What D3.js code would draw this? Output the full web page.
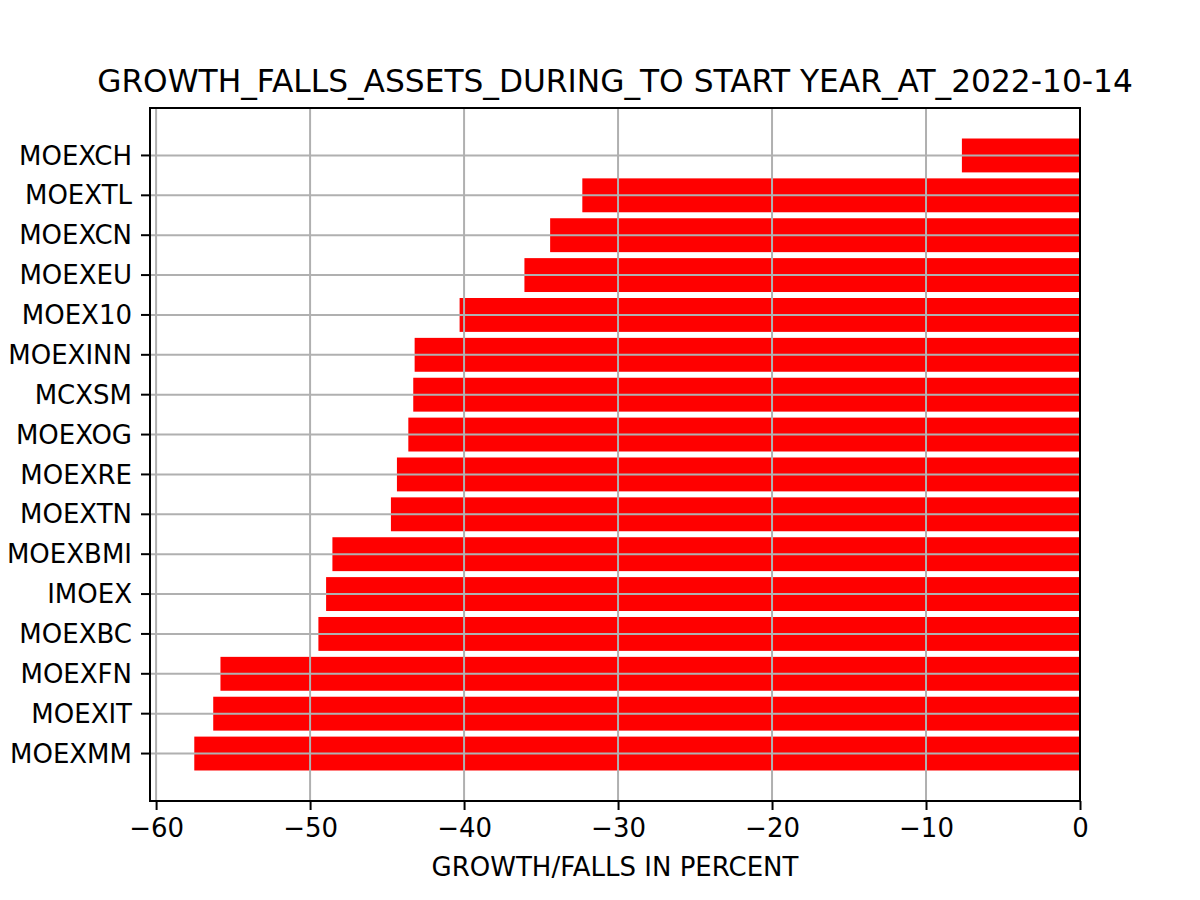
<!DOCTYPE html>
<html><head><meta charset="utf-8">
<script src="https://cdn.jsdelivr.net/npm/d3@7"></script>
<style>body{margin:0;background:#fff}svg{display:block}text{font-family:"DejaVu Sans",sans-serif;fill:#000}</style>
</head><body><svg id="c" width="1200" height="900"></svg>
<script>
const categories = ["MOEXCH","MOEXTL","MOEXCN","MOEXEU","MOEX10","MOEXINN","MCXSM","MOEXOG","MOEXRE","MOEXTN","MOEXBMI","IMOEX","MOEXBC","MOEXFN","MOEXIT","MOEXMM"];
const values = [-7.67,-32.32,-34.41,-36.08,-40.29,-43.21,-43.30,-43.62,-44.36,-44.75,-48.55,-48.96,-49.46,-55.82,-56.29,-57.52];
const xTicks = [-60,-50,-40,-30,-20,-10,0];
const titleText = "GROWTH_FALLS_ASSETS_DURING_TO START YEAR_AT_2022-10-14";
const xLabel = "GROWTH/FALLS IN PERCENT";

const L=150,R=1080,T=108,B=801;
const svg=d3.select("#c");
const n=categories.length;
const minV=d3.min(values);
const x=d3.scaleLinear().domain([minV*1.05,0]).range([L,R]);
const pos=i=>n-1-i;
const half=0.425;
const y=d3.scaleLinear().domain([-0.4-0.79,n-1+0.4+0.79]).range([B,T]);
const bh=y(0)-y(2*half);

svg.append("g").selectAll("rect").data(values).join("rect")
  .attr("x",d=>x(d)).attr("width",d=>x(0)-x(d))
  .attr("y",(d,i)=>y(pos(i)+half)).attr("height",bh)
  .attr("fill","#ff0000");

const g=svg.append("g").attr("stroke","#b0b0b0").attr("stroke-width",2);
g.selectAll(".vx").data(xTicks).join("line").attr("x1",d=>x(d)).attr("x2",d=>x(d)).attr("y1",T).attr("y2",B);
g.selectAll(".hy").data(categories).join("line").attr("x1",L).attr("x2",R).attr("y1",(d,i)=>y(pos(i))).attr("y2",(d,i)=>y(pos(i)));

svg.append("rect").attr("x",L).attr("y",T).attr("width",R-L).attr("height",B-T).attr("fill","none").attr("stroke","#000").attr("stroke-width",2);

const xa=svg.append("g").attr("transform",`translate(0,${B})`)
  .call(d3.axisBottom(x).tickValues(xTicks).tickSize(9).tickPadding(9).tickFormat(d=>d<0?"\u2212"+Math.abs(d):d));
xa.select(".domain").remove();
xa.selectAll("line").attr("stroke-width",2);
xa.selectAll("text").attr("font-size",26).attr("font-family","DejaVu Sans");

const ys=d3.scaleOrdinal().domain(categories).range(categories.map((c,i)=>y(pos(i))));
const ya=svg.append("g").attr("transform",`translate(${L},0)`);
ya.selectAll("line").data(categories).join("line").attr("x1",-9).attr("x2",0)
  .attr("y1",d=>ys(d)).attr("y2",d=>ys(d)).attr("stroke","#000").attr("stroke-width",2);
ya.selectAll("text").data(categories).join("text").attr("x",-18).attr("y",d=>ys(d))
  .attr("dy","0.35em").attr("text-anchor","end").attr("font-size",26).text(d=>d);

svg.append("text").attr("x",(L+R)/2).attr("y",T-15.6).attr("text-anchor","middle").attr("font-size",31.25).text(titleText);
svg.append("text").attr("x",(L+R)/2).attr("y",876).attr("text-anchor","middle").attr("font-size",26).text(xLabel);
</script></body></html>
